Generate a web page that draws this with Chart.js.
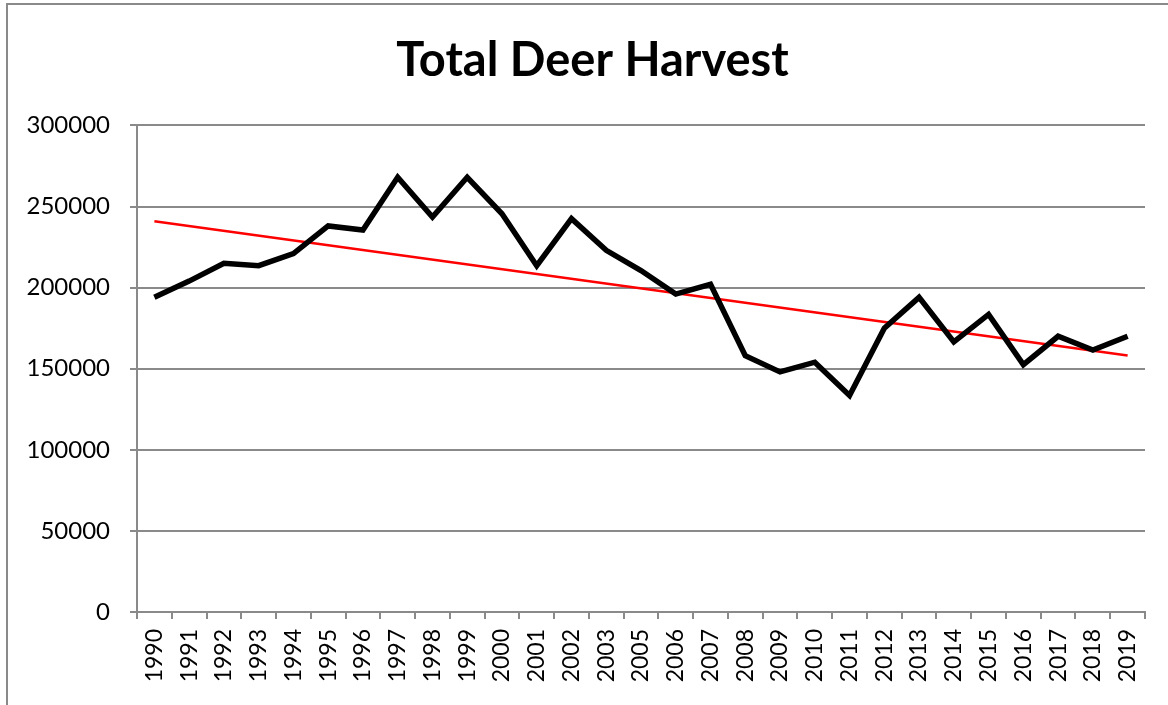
<!DOCTYPE html>
<html>
<head>
<meta charset="utf-8">
<script src="https://cdn.jsdelivr.net/npm/chart.js@4.4.0/dist/chart.umd.min.js"></script>
<style>
	body { margin: 0; background: #fff; overflow: hidden; }
	.frame { position: absolute; left: 6px; top: 3px; width: 1300px; height: 800px; border-left: 2px solid #8a8a8a; border-top: 2px solid #8a8a8a; }
	#wrap { position: absolute; left: 0; top: 0; width: 1168px; height: 705px; }
</style>
</head>
<body>
<div class="frame"></div>
<div id="wrap"><canvas id="mycanvas"></canvas></div>
<script>
var years = ['1990','1991','1992','1993','1994','1995','1996','1997','1998','1999','2000','2001','2002','2003',
	'2005','2006','2007','2008','2009','2010','2011','2012','2013','2014','2015','2016','2017','2018','2019'];
var harvest = [194000, 204000, 215000, 213500, 221000, 238000, 235500, 268000, 243500, 268000, 245500, 213500, 242500, 223000,
	210500, 196000, 202000, 158000, 148000, 154000, 133500, 175000, 194000, 166500, 183500, 152500, 170000, 161500, 170000];
// linear trend line, read at both ends
var trendStart = 240900;
var trendEnd = 158200;
var yTicks = [0, 50000, 100000, 150000, 200000, 250000, 300000];

var trend = [];
for (var i in years) {
	trend.push(null);
}
trend[0] = trendStart;
trend[trend.length - 1] = trendEnd;

var chartdata = {
	labels: years,
	datasets: [
		{
			label: 'Total',
			borderColor: '#000000',
			backgroundColor: '#000000',
			borderWidth: 5.5,
			pointRadius: 0,
			tension: 0,
			data: harvest
		},
		{
			label: 'Trend',
			borderColor: '#ff0000',
			backgroundColor: '#ff0000',
			borderWidth: 2.5,
			pointRadius: 0,
			spanGaps: true,
			data: trend
		}
	]
};

var gray = '#8a8a8a';
var ctx = document.getElementById('mycanvas');

// center the title over the whole frame, not over canvas minus padding
var titleShift = {
	id: 'titleShift',
	afterLayout: function(chart) {
		chart.titleBlock.left = 40;
		chart.titleBlock.right = 1145;
	}
};

var lineGraph = new Chart(ctx, {
	type: 'line',
	data: chartdata,
	plugins: [titleShift],
	options: {
		responsive: true,
		maintainAspectRatio: false,
		animation: false,
		layout: { padding: { left: 0, right: 23, top: 0, bottom: 0 } },
		plugins: {
			legend: { display: false },
			tooltip: { enabled: false },
			title: {
				display: true,
				text: 'Total Deer Harvest',
				color: '#000',
				font: { family: 'Lato', size: 47, weight: 'bold', lineHeight: 1.2 },
				padding: { top: 33, bottom: 36 }
			}
		},
		scales: {
			x: {
				offset: true,
				grid: { display: true, drawOnChartArea: false, drawTicks: true, tickLength: 7, offset: true, color: gray, lineWidth: 2 },
				border: { color: gray, width: 2 },
				ticks: {
					autoSkip: false,
					minRotation: 90,
					maxRotation: 90,
					padding: 10,
					color: '#000',
					font: { family: 'Lato', size: 23 }
				},
				afterFit: function(scale) { scale.height = 93; }
			},
			y: {
				min: 0,
				max: 300000,
				afterBuildTicks: function(scale) {
					scale.ticks = yTicks.map(function(v) { return { value: v }; });
				},
				grid: { color: gray, lineWidth: 2, tickLength: 7 },
				border: { color: gray, width: 2 },
				ticks: {
					padding: 20,
					color: '#000',
					font: { family: 'Lato', size: 24 },
					callback: function(v) { return '' + v; }
				},
				afterFit: function(scale) { scale.width = 137; }
			}
		}
	}
});
</script>
</body>
</html>
